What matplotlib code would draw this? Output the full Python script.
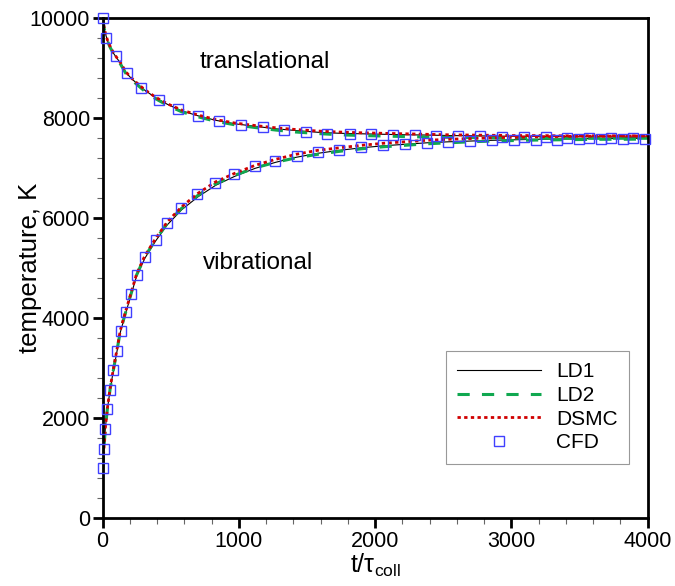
import numpy as np
import matplotlib
matplotlib.use('Agg')
import matplotlib.pyplot as plt
from matplotlib.ticker import MultipleLocator

plt.rcParams['font.family'] = ['Liberation Sans', 'DejaVu Sans']
plt.rcParams['mathtext.fontset'] = 'custom'
plt.rcParams['mathtext.rm'] = 'Liberation Sans'
plt.rcParams['mathtext.it'] = 'Liberation Sans'

# ── Data ─────────────────────────────────────────────────────────────────────
# common time grid for the simulation curves (t / tau_coll)
t_line = [0, 10, 20, 35, 55, 80, 105, 130, 170, 210, 250, 310, 390, 475, 580,
          700, 830, 970, 1120, 1270, 1420, 1580, 1740, 1900, 2060, 2220, 2380,
          2540, 2700, 2860, 3020, 3180, 3340, 3500, 3660, 3820, 4000]

# translational temperature, K
ld1_trans  = [10000, 9830, 9700, 9560, 9430, 9300, 9200, 9110, 8920, 8800, 8700,
              8560, 8410, 8280, 8150, 8050, 7960, 7890, 7840, 7790, 7755, 7720,
              7700, 7690, 7680, 7670, 7665, 7655, 7650, 7645, 7640, 7640, 7635,
              7630, 7630, 7625, 7625]
ld2_trans  = [10000, 9820, 9690, 9550, 9420, 9290, 9190, 9090, 8900, 8780, 8680,
              8540, 8390, 8260, 8130, 8030, 7940, 7870, 7815, 7765, 7725, 7695,
              7670, 7655, 7645, 7635, 7625, 7620, 7615, 7610, 7605, 7600, 7600,
              7600, 7600, 7600, 7600]
dsmc_trans = [10000, 9840, 9710, 9570, 9440, 9310, 9210, 9120, 8930, 8810, 8710,
              8570, 8420, 8290, 8165, 8065, 7975, 7905, 7855, 7810, 7775, 7745,
              7725, 7710, 7700, 7690, 7680, 7670, 7665, 7660, 7655, 7655, 7650,
              7650, 7650, 7650, 7650]

# vibrational temperature, K
ld1_vib  = [1000, 1400, 1800, 2180, 2570, 2970, 3330, 3720, 4110, 4480, 4850,
            5200, 5550, 5870, 6170, 6430, 6660, 6840, 7000, 7120, 7220, 7300,
            7360, 7410, 7450, 7480, 7510, 7530, 7545, 7560, 7570, 7580, 7585,
            7590, 7595, 7600, 7600]
ld2_vib  = [1000, 1400, 1800, 2190, 2580, 2980, 3350, 3740, 4130, 4500, 4870,
            5230, 5580, 5900, 6200, 6460, 6690, 6860, 7010, 7120, 7210, 7280,
            7340, 7390, 7430, 7460, 7490, 7510, 7530, 7545, 7555, 7565, 7570,
            7575, 7580, 7580, 7585]
dsmc_vib = [1000, 1400, 1800, 2200, 2600, 3000, 3370, 3760, 4150, 4520, 4890,
            5250, 5600, 5930, 6230, 6500, 6730, 6900, 7060, 7180, 7280, 7360,
            7410, 7460, 7500, 7530, 7560, 7580, 7595, 7610, 7620, 7630, 7635,
            7640, 7640, 7645, 7645]

# CFD markers
cfd_t_trans = [0, 27, 95, 176, 284, 411, 550, 700, 856, 1013, 1174, 1330, 1490,
               1649, 1813, 1970, 2131, 2290, 2449, 2611, 2772, 2931, 3092, 3252,
               3411, 3572, 3734, 3892]
cfd_T_trans = [10000, 9600, 9250, 8900, 8610, 8370, 8180, 8050, 7950, 7870, 7820,
               7775, 7735, 7695, 7690, 7680, 7667, 7667, 7640, 7640, 7640, 7627,
               7627, 7627, 7613, 7613, 7613, 7613]
cfd_t_vib = [2, 9, 19, 34, 54, 78, 103, 132, 169, 210, 252, 313, 389, 475, 578,
             695, 827, 966, 1116, 1268, 1424, 1580, 1737, 1896, 2057, 2218, 2378,
             2537, 2698, 2857, 3017, 3178, 3337, 3496, 3657, 3816, 3978]
cfd_T_vib = [1000, 1390, 1790, 2180, 2570, 2970, 3350, 3740, 4120, 4490, 4870,
             5230, 5570, 5910, 6210, 6480, 6710, 6890, 7050, 7150, 7250, 7330,
             7375, 7430, 7460, 7490, 7510, 7535, 7540, 7560, 7560, 7565, 7575,
             7580, 7580, 7590, 7590]

# ── Plot ─────────────────────────────────────────────────────────────────────
fig = plt.figure(figsize=(6.75, 5.86), dpi=100)
ax = fig.add_axes([0.152, 0.1155, 0.8076, 0.8533])

green = '#10a850'
red = '#d00000'
blue = '#4040ff'

for T, lab in [(ld1_trans, 'LD1'), (ld1_vib, None)]:
    ax.plot(t_line, T, color='black', lw=0.8, label=lab)
for T, lab in [(ld2_trans, 'LD2'), (ld2_vib, None)]:
    ax.plot(t_line, T, color=green, lw=2.2, ls=(0, (4, 4)), label=lab)
for T, lab in [(dsmc_trans, 'DSMC'), (dsmc_vib, None)]:
    ax.plot(t_line, T, color=red, lw=2.0, ls=(0, (1.2, 1.2)), label=lab)
ax.plot(cfd_t_trans, cfd_T_trans, ls='none', marker='s', ms=6.5, mfc='none',
        mec=blue, mew=1.0, label='CFD', clip_on=False, zorder=4)
ax.plot(cfd_t_vib, cfd_T_vib, ls='none', marker='s', ms=6.5, mfc='none',
        mec=blue, mew=1.0, clip_on=False, zorder=4)

ax.set_xlim(0, 4000)
ax.set_ylim(0, 10000)
ax.xaxis.set_major_locator(MultipleLocator(1000))
ax.xaxis.set_minor_locator(MultipleLocator(200))
ax.yaxis.set_major_locator(MultipleLocator(2000))
ax.yaxis.set_minor_locator(MultipleLocator(400))
ax.tick_params(which='major', direction='out', length=7, width=2,
               labelsize=15.5, pad=2)
ax.tick_params(which='minor', direction='out', length=4, width=0.8,
               color='#666666')
for s in ax.spines.values():
    s.set_linewidth(2)

ax.set_xlabel(r'$\mathregular{t/\tau_{coll}}$', fontsize=18)
ax.set_ylabel('temperature, K', fontsize=18.5)
ax.xaxis.set_label_coords(0.5, -0.066)
ax.yaxis.set_label_coords(-0.112, 0.5)

ax.text(1190, 9126, 'translational', fontsize=17.5, ha='center', va='center')
ax.text(1140, 5106, 'vibrational', fontsize=17.5, ha='center', va='center')

leg = ax.legend(loc='upper right', bbox_to_anchor=(0.9663, 0.3346),
                borderaxespad=0, fontsize=15, handlelength=4.0,
                handletextpad=0.75, labelspacing=0.22, fancybox=False,
                framealpha=1, edgecolor='#999999', borderpad=0.55)
leg.get_frame().set_linewidth(0.8)

fig.savefig('out.png', dpi=100)
